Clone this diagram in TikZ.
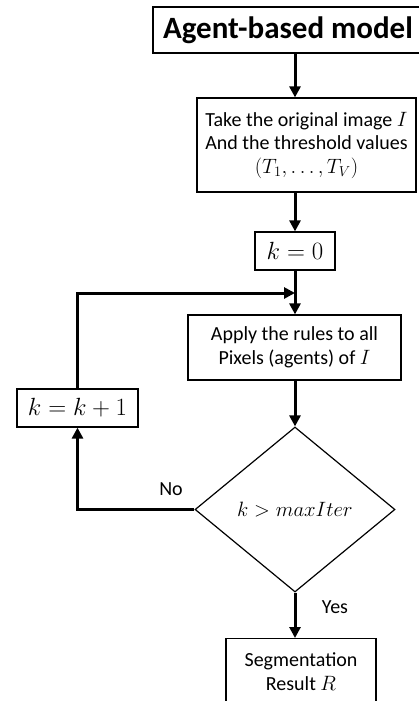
\documentclass[tikz,border=0pt]{standalone}
\usepackage{fontspec}
\setmainfont{Carlito}
\usetikzlibrary{arrows.meta,shapes.geometric}
\begin{document}
\begin{tikzpicture}[x=1pt,y=-1pt,
  box/.style={draw,line width=1.2pt,align=center,inner sep=0pt,font=\fontsize{20}{23.5}\selectfont},
  mathbox/.style={box,font=\fontsize{23}{26}\selectfont},
  arr/.style={line width=3pt,-{Triangle[width=11pt,length=11pt]}},
  lab/.style={font=\fontsize{20}{24}\selectfont}]
\useasboundingbox (0,0) rectangle (419,701);

\node (title) at (288,30) [box,minimum width=270,minimum height=46,font=\fontsize{31}{35}\selectfont\bfseries] {Agent-based model};
\node (input) at (306.5,145) [box,minimum width=219,minimum height=94] {Take the original image $I$\\And the threshold values\\$(T_1,\dots,T_V)$};
\node (kzero) at (295,251) [mathbox,minimum width=80,minimum height=38] {$k=0$};
\node (apply) at (294.5,347.5) [box,minimum width=213,minimum height=65] {Apply the rules to all\\Pixels (agents) of $I$};
\node (dec) at (295,509.5) [draw,line width=1.2pt,diamond,inner sep=0pt,minimum width=200,minimum height=165,font=\fontsize{22}{26}\selectfont] {$k>maxIter$};
\node (incr) at (77.5,408) [mathbox,minimum width=121,minimum height=38] {$k=k+1$};
\node (result) at (301,638) [box,anchor=north,minimum width=150,minimum height=66] {Segmentation\\Result $R$};
\coordinate (loopin) at (295,293);

\draw [arr] (title.south -| kzero) -- (input.north -| kzero);
\draw [arr] (input.south -| kzero) -- (kzero.north);
\draw [arr] (kzero.south) -- (apply.north -| kzero);
\draw [arr] (apply.south -| dec) -- (dec.north);
\draw [arr] (dec.south) -- (result.north -| dec);
\draw [arr] (dec.west) -- (dec.west -| incr) -- (incr.south);
\draw [arr] (incr.north) |- (loopin);
\node (no) at (171,489) [lab] {No};
\node (yes) at (335,607) [lab] {Yes};
\end{tikzpicture}
\end{document}
